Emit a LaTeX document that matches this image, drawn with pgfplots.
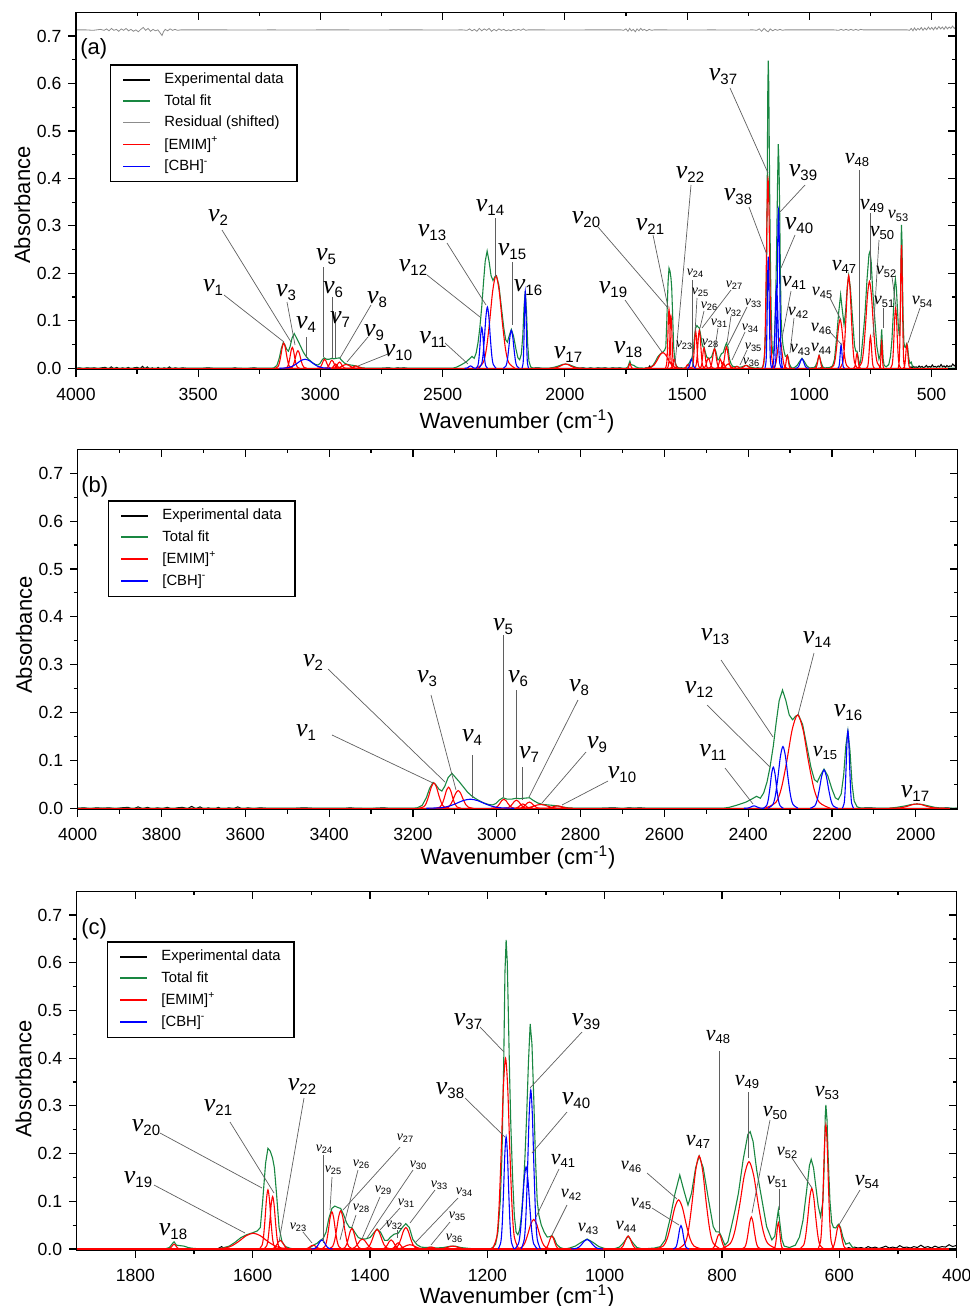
\documentclass[border=0pt]{standalone}
\usepackage{pgfplots}
\pgfplotsset{compat=1.18}
\usepackage{pgfplotstable}
\usepackage{fontspec}
\setmainfont{Liberation Sans}
\newfontfamily\nufont{Liberation Serif}
\definecolor{fitgreen}{RGB}{25,135,65}
\definecolor{resgray}{RGB}{140,140,140}
\definecolor{leadgray}{RGB}{95,95,95}

\newcommand\NUL[1]{{\fontsize{13}{13}\selectfont\nufont\itshape ν}{\fontsize{7.5}{7.5}\selectfont\raisebox{-2pt}{#1}}}
\newcommand\NUM[1]{{\fontsize{11}{11}\selectfont\nufont\itshape ν}{\fontsize{6.5}{6.5}\selectfont\raisebox{-1.7pt}{#1}}}
\newcommand\NUS[1]{{\fontsize{9}{9}\selectfont\nufont\itshape ν}{\fontsize{5.5}{5.5}\selectfont\raisebox{-1.4pt}{#1}}}
\newcommand\NUX[1]{{\fontsize{7}{7}\selectfont\nufont\itshape ν}{\fontsize{4.6}{4.6}\selectfont\raisebox{-1pt}{#1}}}
\newcommand\LL[4]{\draw[leadgray,line width=0.35pt] (#1,#2)--(#3,#4);}
\newcommand\TT[3]{\node[inner sep=0pt] at (#1,#2) {#3};}

\pgfplotstableread{
x y
3186 0
3174 0.0033
3168 0.0111
3162 0.0265
3156 0.0446
3150 0.053
3144 0.0446
3138 0.0265
3132 0.0111
3126 0.0033
3114 0
nan nan
3145 0
3135 0.0028
3130 0.0092
3125 0.022
3120 0.037
3115 0.044
3110 0.037
3105 0.022
3100 0.0092
3095 0.0028
3085 0
nan nan
3128 0
3116 0.0023
3110 0.0078
3104 0.0185
3098 0.0311
3092 0.037
3086 0.0311
3080 0.0185
3074 0.0078
3068 0.0023
3056 0
nan nan
3013 0
3003 0.0012
2998 0.004
2993 0.0095
2988 0.016
2983 0.019
2978 0.016
2973 0.0095
2968 0.004
2963 0.0012
2953 0
nan nan
2983 0
2973 0.0011
2968 0.0036
2963 0.0085
2958 0.0143
2953 0.017
2948 0.0143
2943 0.0085
2938 0.0036
2933 0.0011
2923 0
nan nan
2962 0
2954 0.0006
2950 0.0019
2946 0.0045
2942 0.0076
2938 0.009
2934 0.0076
2930 0.0045
2926 0.0019
2922 0.0006
2914 0
nan nan
2952 0
2942 0.0008
2937 0.0027
2932 0.0065
2927 0.0109
2922 0.013
2917 0.0109
2912 0.0065
2907 0.0027
2902 0.0008
2892 0
nan nan
2949 0
2931 0.0005
2922 0.0017
2913 0.004
2904 0.0067
2895 0.008
2886 0.0067
2877 0.004
2868 0.0017
2859 0.0005
2841 0
nan nan
2891 0
2879 0.0003
2873 0.0011
2867 0.0025
2861 0.0042
2855 0.005
2849 0.0042
2843 0.0025
2837 0.0011
2831 0.0003
2819 0
nan nan
2360 0
2334 0.0122
2321 0.041
2308 0.0975
2295 0.164
2282 0.195
2269 0.164
2256 0.0975
2243 0.041
2230 0.0122
2204 0
nan nan
2063 0
2041 0.0006
2030 0.0019
2019 0.0045
2008 0.0076
1997 0.009
1986 0.0076
1975 0.0045
1964 0.0019
1953 0.0006
1931 0
nan nan
1746 0
1742 0.0006
1740 0.0021
1738 0.005
1736 0.0084
1734 0.010
1732 0.0084
1730 0.005
1728 0.0021
1726 0.0006
1722 0
nan nan
1671 0
1647 0.0021
1635 0.0069
1623 0.0165
1611 0.0278
1599 0.033
1587 0.0278
1575 0.0165
1563 0.0069
1551 0.0021
1527 0
nan nan
1589 0
1584 0.0078
1581.5 0.026
1579 0.062
1576.5 0.1043
1574 0.124
1571.5 0.1043
1569 0.062
1566.5 0.026
1564 0.0078
1559 0
nan nan
1581 0
1576 0.0069
1573.5 0.0231
1571 0.055
1568.5 0.0925
1566 0.110
1563.5 0.0925
1561 0.055
1558.5 0.0231
1556 0.0069
1551 0
nan nan
1571 0
1565 0.0011
1562 0.0038
1559 0.009
1556 0.0151
1553 0.018
1550 0.0151
1547 0.009
1544 0.0038
1541 0.0011
1535 0
nan nan
1515 0
1509 0.0005
1506 0.0017
1503 0.004
1500 0.0067
1497 0.008
1494 0.0067
1491 0.004
1488 0.0017
1485 0.0005
1479 0
nan nan
1483 0
1477 0.0049
1474 0.0164
1471 0.039
1468 0.0656
1465 0.078
1462 0.0656
1459 0.039
1456 0.0164
1453 0.0049
1447 0
nan nan
1471 0
1464 0.005
1460.5 0.0168
1457 0.04
1453.5 0.0673
1450 0.080
1446.5 0.0673
1443 0.04
1439.5 0.0168
1436 0.005
1429 0
nan nan
1449 0
1443 0.0027
1440 0.009
1437 0.0215
1434 0.0362
1431 0.043
1428 0.0362
1425 0.0215
1422 0.009
1419 0.0027
1413 0
nan nan
1437 0
1429 0.0013
1425 0.0044
1421 0.0105
1417 0.0177
1413 0.021
1409 0.0177
1405 0.0105
1401 0.0044
1397 0.0013
1389 0
nan nan
1412 0
1404 0.0026
1400 0.0086
1396 0.0205
1392 0.0345
1388 0.041
1384 0.0345
1380 0.0205
1376 0.0086
1372 0.0026
1364 0
nan nan
1382 0
1376 0.0012
1373 0.004
1370 0.0095
1367 0.016
1364 0.019
1361 0.016
1358 0.0095
1355 0.004
1352 0.0012
1346 0
nan nan
1367 0
1362 0.0008
1359.5 0.0027
1357 0.0065
1354.5 0.0109
1352 0.013
1349.5 0.0109
1347 0.0065
1344.5 0.0027
1342 0.0008
1337 0
nan nan
1363 0
1355 0.0028
1351 0.0095
1347 0.0225
1343 0.0378
1339 0.045
1335 0.0378
1331 0.0225
1327 0.0095
1323 0.0028
1315 0
nan nan
1362 0
1352 0.0006
1347 0.0019
1342 0.0045
1337 0.0076
1332 0.009
1327 0.0076
1322 0.0045
1317 0.0019
1312 0.0006
1302 0
nan nan
1314 0
1308 0.0003
1305 0.0008
1302 0.002
1299 0.0034
1296 0.004
1293 0.0034
1290 0.002
1287 0.0008
1284 0.0003
1278 0
nan nan
1289 0
1279 0.0004
1274 0.0013
1269 0.003
1264 0.005
1259 0.006
1254 0.005
1249 0.003
1244 0.0013
1239 0.0004
1229 0
nan nan
1191.5 0
1184 0.025
1180.25 0.084
1176.5 0.20
1172.75 0.3364
1169 0.40
1165.25 0.3364
1161.5 0.20
1157.75 0.084
1154 0.025
1146.5 0
nan nan
1151 0
1141 0.0039
1136 0.013
1131 0.031
1126 0.0521
1121 0.062
1116 0.0521
1111 0.031
1106 0.013
1101 0.0039
1091 0
nan nan
1105 0
1100 0.0017
1097.5 0.0057
1095 0.0135
1092.5 0.0227
1090 0.027
1087.5 0.0227
1085 0.0135
1082.5 0.0057
1080 0.0017
1075 0
nan nan
978 0
972 0.0017
969 0.0057
966 0.0135
963 0.0227
960 0.027
957 0.0227
954 0.0135
951 0.0057
948 0.0017
942 0
nan nan
913 0
900 0.0064
893.5 0.0216
887 0.0515
880.5 0.0866
874 0.103
867.5 0.0866
861 0.0515
854.5 0.0216
848 0.0064
835 0
nan nan
875 0
863 0.0122
857 0.041
851 0.0975
845 0.164
839 0.195
833 0.164
827 0.0975
821 0.041
815 0.0122
803 0
nan nan
820 0
815 0.0019
812.5 0.0065
810 0.0155
807.5 0.0261
805 0.031
802.5 0.0261
800 0.0155
797.5 0.0065
795 0.0019
790 0
nan nan
802 0
786 0.0114
778 0.0384
770 0.0915
762 0.1539
754 0.183
746 0.1539
738 0.0915
730 0.0384
722 0.0114
706 0
nan nan
766.5 0
761 0.0042
758.25 0.0141
755.5 0.0335
752.75 0.0563
750 0.067
747.25 0.0563
744.5 0.0335
741.75 0.0141
739 0.0042
733.5 0
nan nan
713 0
710 0.0034
708.5 0.0116
707 0.0275
705.5 0.0463
704 0.055
702.5 0.0463
701 0.0275
699.5 0.0116
698 0.0034
695 0
nan nan
668 0
661 0.0079
657.5 0.0267
654 0.0635
650.5 0.1068
647 0.127
643.5 0.1068
640 0.0635
636.5 0.0267
633 0.0079
626 0
nan nan
636.5 0
632 0.0163
629.75 0.0546
627.5 0.13
625.25 0.2187
623 0.26
620.75 0.2187
618.5 0.13
616.25 0.0546
614 0.0163
609.5 0
nan nan
616 0
611 0.0031
608.5 0.0105
606 0.025
603.5 0.042
601 0.05
598.5 0.042
596 0.025
593.5 0.0105
591 0.0031
586 0
}\redtab

\pgfplotstableread{
x y
3168 0
3133 0.0012
3115.5 0.004
3098 0.0095
3080.5 0.016
3063 0.019
3045.5 0.016
3028 0.0095
3010.5 0.004
2993 0.0012
2958 0
nan nan
2410 0
2402 0.0003
2398 0.0011
2394 0.0025
2390 0.0042
2386 0.005
2382 0.0042
2378 0.0025
2374 0.0011
2370 0.0003
2362 0
nan nan
2364 0
2356 0.0054
2352 0.0181
2348 0.043
2344 0.0723
2340 0.086
2336 0.0723
2332 0.043
2328 0.0181
2324 0.0054
2316 0
nan nan
2353 0
2341 0.0081
2335 0.0271
2329 0.0645
2323 0.1085
2317 0.129
2311 0.1085
2305 0.0645
2299 0.0271
2293 0.0081
2281 0
nan nan
2252 0
2241 0.005
2235.5 0.0168
2230 0.04
2224.5 0.0673
2219 0.080
2213.5 0.0673
2208 0.04
2202.5 0.0168
2197 0.005
2186 0
nan nan
2175.5 0
2171 0.0101
2168.75 0.034
2166.5 0.081
2164.25 0.1362
2162 0.162
2159.75 0.1362
2157.5 0.081
2155.25 0.034
2153 0.0101
2148.5 0
nan nan
1500 0
1494 0.0012
1491 0.004
1488 0.0095
1485 0.016
1482 0.019
1479 0.016
1476 0.0095
1473 0.004
1470 0.0012
1464 0
nan nan
1181.5 0
1177 0.0147
1174.75 0.0494
1172.5 0.1175
1170.25 0.1976
1168 0.235
1165.75 0.1976
1163.5 0.1175
1161.25 0.0494
1159 0.0147
1154.5 0
nan nan
1153.5 0
1147 0.0108
1143.75 0.0361
1140.5 0.086
1137.25 0.1447
1134 0.172
1130.75 0.1447
1127.5 0.086
1124.25 0.0361
1121 0.0108
1114.5 0
nan nan
1142.5 0
1137 0.0208
1134.25 0.0699
1131.5 0.1665
1128.75 0.28
1126 0.333
1123.25 0.28
1120.5 0.1665
1117.75 0.0699
1115 0.0208
1109.5 0
nan nan
1057 0
1048 0.0013
1043.5 0.0042
1039 0.01
1034.5 0.0168
1030 0.020
1025.5 0.0168
1021 0.01
1016.5 0.0042
1012 0.0013
1003 0
nan nan
883.5 0
879 0.0031
876.75 0.0103
874.5 0.0245
872.25 0.0412
870 0.049
867.75 0.0412
865.5 0.0245
863.25 0.0103
861 0.0031
856.5 0
}\bluetab

\pgfplotstableread{
x y
4000 0
3200 0
3190 0.001
3178 0.006
3168 0.022
3160 0.042
3152 0.054
3146 0.050
3138 0.040
3131 0.036
3124 0.046
3116 0.064
3107 0.073
3099 0.065
3090 0.056
3080 0.045
3070 0.034
3060 0.026
3050 0.020
3040 0.015
3030 0.011
3020 0.008
3010 0.007
3002 0.010
2994 0.017
2985 0.022
2975 0.019
2965 0.019
2953 0.021
2945 0.020
2935 0.021
2922 0.022
2912 0.016
2902 0.011
2890 0.008
2878 0.007
2865 0.006
2855 0.005
2845 0.003
2830 0.001
2810 0
2460 0
2445 0.002
2425 0.007
2405 0.013
2390 0.020
2380 0.025
2371 0.021
2363 0.032
2355 0.055
2348 0.085
2340 0.130
2333 0.180
2326 0.225
2318 0.247
2310 0.225
2302 0.195
2294 0.185
2286 0.193
2280 0.195
2270 0.175
2260 0.130
2250 0.085
2242 0.060
2235 0.055
2228 0.068
2219 0.082
2210 0.068
2200 0.040
2192 0.022
2185 0.018
2178 0.030
2172 0.070
2167 0.130
2162 0.162
2157 0.120
2152 0.050
2147 0.015
2140 0.003
2130 0
2065 0
2045 0.002
2025 0.005
2010 0.008
1997 0.009
1985 0.008
1970 0.005
1955 0.002
1935 0
1750 0
1742 0.003
1737 0.011
1734 0.015
1730 0.008
1724 0.007
1717 0.006
1710 0.003
1700 0.001
1665 0
1652 0.002
1640 0.006
1630 0.014
1620 0.024
1610 0.030
1600 0.034
1592 0.038
1587 0.045
1583 0.100
1578 0.180
1574 0.211
1570 0.205
1566 0.190
1563 0.170
1559 0.110
1555 0.045
1550 0.015
1544 0.005
1535 0.001
1520 0
1505 0.001
1500 0.005
1495 0.009
1490 0.012
1485 0.018
1480 0.022
1475 0.035
1470 0.065
1465 0.085
1460 0.090
1455 0.087
1450 0.085
1445 0.072
1440 0.055
1435 0.045
1431 0.045
1426 0.035
1420 0.024
1414 0.021
1408 0.021
1400 0.024
1394 0.033
1388 0.042
1382 0.035
1375 0.018
1370 0.018
1365 0.025
1359 0.031
1352 0.033
1345 0.045
1339 0.053
1333 0.045
1327 0.020
1320 0.009
1313 0.004
1305 0.003
1296 0.004
1288 0.002
1275 0.003
1262 0.006
1255 0.006
1245 0.003
1230 0.001
1215 0
1195 0
1190 0.004
1186 0.010
1182 0.035
1178 0.100
1175 0.200
1172 0.400
1170 0.580
1168 0.648
1166 0.600
1164 0.480
1162 0.360
1160 0.260
1157 0.150
1154 0.070
1151 0.035
1148 0.030
1145 0.040
1142 0.070
1139 0.120
1136 0.190
1133 0.280
1130 0.390
1127 0.472
1124 0.430
1121 0.320
1118 0.190
1115 0.100
1112 0.070
1108 0.050
1103 0.035
1098 0.025
1093 0.026
1090 0.028
1086 0.022
1082 0.010
1076 0.003
1068 0
1060 0.002
1050 0.006
1040 0.014
1030 0.021
1020 0.014
1010 0.005
1000 0.001
985 0
975 0.004
968 0.013
960 0.027
952 0.013
945 0.003
935 0
915 0.002
905 0.005
897 0.019
889 0.061
880 0.117
872 0.155
866 0.127
858 0.092
852 0.117
845 0.170
839 0.195
832 0.170
823 0.103
815 0.047
810 0.036
805 0.036
801 0.026
795 0.008
790 0.015
784 0.047
778 0.080
772 0.117
764 0.187
756 0.240
752 0.246
747 0.225
741 0.166
732 0.103
724 0.047
715 0.019
710 0.027
706 0.065
704 0.082
701 0.050
698 0.020
694 0.006
685 0.003
675 0.008
668 0.025
662 0.060
656 0.120
651 0.175
648 0.188
644 0.170
640 0.130
636 0.090
632 0.068
628 0.100
626 0.170
624 0.280
623 0.302
621 0.270
619 0.190
616 0.100
613 0.055
610 0.045
606 0.044
603 0.050
601 0.052
598 0.045
594 0.025
589 0.010
583 0.013
578 0.004
570 0
400 0
}\fittab

\pgfplotstableread{
x y
4000 0
3985 0.001
3970 -0.001
3955 0.001
3940 0
3925 0.001
3910 -0.001
3895 0.001
3880 0.002
3868 -0.002
3856 0.003
3845 -0.001
3833 0.002
3822 -0.002
3810 0.001
3798 -0.001
3786 0.002
3774 -0.002
3762 0.001
3750 0.002
3738 -0.001
3728 0.004
3718 -0.001
3708 0.003
3698 -0.002
3688 0.001
3676 -0.003
3664 0.002
3652 -0.004
3640 0.001
3628 -0.001
3618 0.003
3606 -0.002
3594 0.001
3580 -0.001
3565 0.001
3550 0
3480 0
3460 0.001
3440 0
3360 0
3350 0.001
3340 0
3300 -0.001
3290 0
3270 0.001
3260 0
2750 0
2720 0.001
2700 -0.001
2685 0.001
2670 0
2660 0.001
2645 0
2140 0
2110 0.001
2095 0
1940 0
1925 0.001
1910 -0.001
1895 0.001
1880 -0.001
1865 0.001
1850 0
1835 0.001
1820 -0.001
1805 0.001
1790 0
1775 0.001
1760 -0.001
1745 0
1700 0
1692 -0.002
1684 -0.003
1676 -0.001
1668 0.001
1660 0
1653 0.005
1648 0
1530 0
1522 0.001
1515 -0.001
1508 0
1240 0
1232 0.001
1222 -0.001
1212 0.001
1205 0
995 0
988 0.001
980 -0.001
950 0.001
940 -0.001
930 0.001
920 0
590 0
584 0.003
579 0.001
574 0.004
569 0.002
563 0.003
557 0.001
551 0.005
545 0.002
539 0.004
533 0.001
527 0.003
521 0.006
515 0.002
509 0.004
503 0.002
497 0.007
491 0.003
485 0.004
479 0.002
473 0.005
467 0.003
461 0.008
455 0.003
449 0.005
443 0.002
437 0.006
431 0.003
425 0.005
419 0.004
413 0.009
407 0.005
402 0.007
400 0.006
}\exptab

\pgfplotstableread{
x y
4000 0.713
3960 0.713
3930 0.712
3900 0.714
3885 0.712
3875 0.715
3865 0.711
3855 0.716
3845 0.712
3835 0.714
3825 0.710
3815 0.715
3805 0.712
3795 0.716
3785 0.711
3775 0.714
3765 0.710
3755 0.713
3745 0.709
3735 0.714
3725 0.718
3715 0.712
3705 0.716
3695 0.710
3685 0.714
3675 0.711
3665 0.713
3655 0.706
3648 0.701
3642 0.709
3635 0.714
3625 0.711
3615 0.715
3605 0.712
3595 0.714
3585 0.712
3570 0.713
3500 0.713
3400 0.713
3300 0.7125
3200 0.713
3100 0.7125
3000 0.713
2900 0.713
2800 0.7125
2700 0.713
2600 0.713
2500 0.7125
2420 0.713
2400 0.712
2390 0.715
2380 0.711
2370 0.714
2360 0.710
2350 0.716
2340 0.711
2330 0.715
2320 0.712
2310 0.716
2300 0.710
2290 0.714
2280 0.711
2270 0.715
2260 0.712
2250 0.714
2240 0.711
2230 0.713
2220 0.711
2210 0.714
2200 0.712
2190 0.714
2180 0.712
2170 0.715
2160 0.712
2150 0.713
2100 0.713
2000 0.7125
1900 0.713
1800 0.713
1770 0.713
1760 0.712
1750 0.715
1742 0.710
1735 0.716
1728 0.711
1720 0.714
1712 0.709
1705 0.715
1697 0.711
1690 0.716
1682 0.712
1675 0.714
1665 0.711
1655 0.714
1645 0.712
1635 0.713
1600 0.713
1500 0.7125
1400 0.713
1300 0.7125
1230 0.713
1215 0.712
1205 0.715
1195 0.710
1185 0.716
1175 0.711
1168 0.709
1160 0.715
1150 0.711
1140 0.714
1130 0.712
1120 0.714
1110 0.712
1100 0.713
1000 0.713
900 0.713
880 0.712
870 0.714
860 0.712
850 0.714
840 0.712
830 0.714
820 0.712
810 0.714
800 0.712
790 0.714
780 0.713
700 0.713
600 0.713
590 0.712
583 0.716
576 0.711
570 0.717
563 0.712
556 0.716
549 0.713
542 0.718
535 0.712
528 0.717
520 0.713
513 0.719
506 0.714
499 0.718
492 0.713
485 0.719
478 0.714
470 0.720
463 0.715
456 0.719
449 0.714
442 0.720
435 0.715
428 0.719
421 0.716
414 0.721
407 0.716
400 0.720
}\restab

\pgfplotsset{
 spbase/.style={scale only axis, width=440pt, x dir=reverse, ymin=-0.003, ymax=0.75,
   anchor=south west,
   axis line style={line width=0.6pt},
   every tick/.style={black, line width=0.6pt},
   major tick length=3.75pt, minor tick length=2pt,
   ytick={0,0.1,0.2,0.3,0.4,0.5,0.6,0.7}, minor y tick num=1, minor x tick num=1,
   tick label style={font=\fontsize{8.8}{10}\selectfont},
   xticklabel style={yshift=-2pt},
   /pgf/number format/assume math mode=true,
   /pgf/number format/set thousands separator={},
   yticklabel style={/pgf/number format/fixed, /pgf/number format/fixed zerofill, /pgf/number format/precision=1},
   unbounded coords=jump},
 spmain/.style={spbase, tick align=outside, xtick pos=left, ytick pos=left},
 spover/.style={spbase, tick align=inside, xtick pos=right, ytick pos=right, xticklabels={}, yticklabels={}},
 leg/.style={legend style={at={#1}, anchor=north west, draw=black, line width=0.7pt, fill=white,
   font=\fontsize{7.4}{8.5}\selectfont, inner xsep=6pt, inner ysep=3.5pt, row sep=2.6pt,
   nodes={inner sep=0.6pt},
   /tikz/every odd column/.append style={column sep=6pt}},
   legend cell align=left,
   legend image code/.code={\draw[##1,line width=0.8pt] (0pt,0pt) -- (13.5pt,0pt);}},
}

\begin{document}
\begin{tikzpicture}
\useasboundingbox (0,0) rectangle (484.5pt,-653pt);

% ---------- (a)
\begin{axis}[spmain, at={(38pt,-184.85pt)}, height=178.7pt, xmin=400, xmax=4000,
  xtick={500,1000,1500,2000,2500,3000,3500,4000}, leg={(0.0386,0.855)}]
\addlegendimage{black}\addlegendentry{Experimental data}
\addlegendimage{fitgreen}\addlegendentry{Total fit}
\addlegendimage{resgray}\addlegendentry{Residual (shifted)}
\addlegendimage{red}\addlegendentry{[EMIM]\textsuperscript{+}}
\addlegendimage{blue}\addlegendentry{[CBH]\textsuperscript{-}}
\addplot[black, line width=0.5pt, forget plot] table[x=x,y=y]{\exptab};
\addplot[fitgreen, line width=0.55pt, forget plot] table[x=x,y=y]{\fittab};
\addplot[resgray, line width=0.4pt, forget plot] table[x=x,y=y]{\restab};
\addplot[red, line width=0.55pt, forget plot] coordinates {(4000,0) (400,0)};
\addplot[red, line width=0.55pt, smooth, forget plot] table[x=x,y=y]{\redtab};
\addplot[blue, line width=0.55pt, smooth, forget plot] table[x=x,y=y]{\bluetab};
\end{axis}
\begin{axis}[spover, at={(38pt,-184.85pt)}, height=178.7pt, xmin=400, xmax=4000,
  xtick={500,1000,1500,2000,2500,3000,3500,4000}]
\end{axis}

% ---------- (b)
\begin{axis}[spmain, at={(38.85pt,-404.85pt)}, height=180.2pt, xmin=1900, xmax=4000,
  xtick={2000,2200,2400,2600,2800,3000,3200,3400,3600,3800,4000}, leg={(0.0344,0.859)}]
\addlegendimage{black}\addlegendentry{Experimental data}
\addlegendimage{fitgreen}\addlegendentry{Total fit}
\addlegendimage{red}\addlegendentry{[EMIM]\textsuperscript{+}}
\addlegendimage{blue}\addlegendentry{[CBH]\textsuperscript{-}}
\addplot[black, line width=0.5pt, forget plot] table[x=x,y=y]{\exptab};
\addplot[fitgreen, line width=0.55pt, forget plot] table[x=x,y=y]{\fittab};
\addplot[red, line width=0.55pt, forget plot] coordinates {(4000,0) (400,0)};
\addplot[red, line width=0.55pt, smooth, forget plot] table[x=x,y=y]{\redtab};
\addplot[blue, line width=0.55pt, smooth, forget plot] table[x=x,y=y]{\bluetab};
\end{axis}
\begin{axis}[spover, at={(38.85pt,-404.85pt)}, height=180.2pt, xmin=1900, xmax=4000,
  xtick={2000,2200,2400,2600,2800,3000,3200,3400,3600,3800,4000}]
\end{axis}

% ---------- (c)
\begin{axis}[spmain, at={(38.35pt,-625.2pt)}, height=179.6pt, xmin=400, xmax=1900,
  xtick={400,600,800,1000,1200,1400,1600,1800}, leg={(0.0344,0.861)}]
\addlegendimage{black}\addlegendentry{Experimental data}
\addlegendimage{fitgreen}\addlegendentry{Total fit}
\addlegendimage{red}\addlegendentry{[EMIM]\textsuperscript{+}}
\addlegendimage{blue}\addlegendentry{[CBH]\textsuperscript{-}}
\addplot[black, line width=0.5pt, forget plot] table[x=x,y=y]{\exptab};
\addplot[fitgreen, line width=0.55pt, forget plot] table[x=x,y=y]{\fittab};
\addplot[red, line width=0.55pt, forget plot] coordinates {(4000,0) (400,0)};
\addplot[red, line width=0.55pt, smooth, forget plot] table[x=x,y=y]{\redtab};
\addplot[blue, line width=0.55pt, smooth, forget plot] table[x=x,y=y]{\bluetab};
\end{axis}
\begin{axis}[spover, at={(38.35pt,-625.2pt)}, height=179.6pt, xmin=400, xmax=1900,
  xtick={400,600,800,1000,1200,1400,1600,1800}]
\end{axis}

% ---------- annotations (pixel coordinates of the reference)
\begin{scope}[x=0.5pt,y=-0.5pt]
\node[anchor=west,inner sep=0pt,font=\fontsize{11}{11}\selectfont] at (80,49) {(a)};
\node[anchor=west,inner sep=0pt,font=\fontsize{11}{11}\selectfont] at (81,487) {(b)};
\node[anchor=west,inner sep=0pt,font=\fontsize{11}{11}\selectfont] at (81,929) {(c)};
\node[anchor=base,inner sep=0pt,font=\fontsize{11}{11}\selectfont] at (517,428.5) {Wavenumber (cm\textsuperscript{-1})};
\node[anchor=base,inner sep=0pt,font=\fontsize{11}{11}\selectfont] at (518,864.3) {Wavenumber (cm\textsuperscript{-1})};
\node[anchor=base,inner sep=0pt,font=\fontsize{11}{11}\selectfont] at (517,1303.3) {Wavenumber (cm\textsuperscript{-1})};
\node[rotate=90,anchor=base,inner sep=0pt,font=\fontsize{11}{11}\selectfont] at (30,205) {Absorbance};
\node[rotate=90,anchor=base,inner sep=0pt,font=\fontsize{11}{11}\selectfont] at (32,635) {Absorbance};
\node[rotate=90,anchor=base,inner sep=0pt,font=\fontsize{11}{11}\selectfont] at (31.5,1079) {Absorbance};

% (a) labels
\LL{224}{295}{284}{342}\TT{213}{288}{\NUL{1}}
\LL{222}{230}{291}{342}\TT{218}{218}{\NUL{2}}
\LL{287}{302}{295}{345}\TT{286}{293}{\NUL{3}}
\LL{306}{337}{306}{358}\TT{306}{325}{\NUL{4}}
\LL{323}{267}{323}{357}\TT{326}{257}{\NUL{5}}
\LL{332}{297}{332}{358}\TT{333}{290}{\NUL{6}}
\LL{335}{312}{335}{358}\TT{340}{320}{\NUL{7}}
\LL{371}{305}{340}{358}\TT{377}{300}{\NUL{8}}
\LL{368}{337}{347}{362}\TT{374}{333}{\NUL{9}}
\LL{388}{354}{358}{366}\TT{398}{353}{\NUL{10}}
\LL{445}{343}{468}{364}\TT{433}{340}{\NUL{11}}
\LL{427}{275}{480}{317}\TT{413}{268}{\NUL{12}}
\LL{447}{243}{486}{305}\TT{432}{233}{\NUL{13}}
\LL{495}{218}{495}{277}\TT{490}{208}{\NUL{14}}
\LL{512}{262}{512}{325}\TT{512}{252}{\NUL{15}}
\TT{528}{288}{\NUL{16}}
\TT{568}{355}{\NUL{17}}
\TT{628}{350}{\NUL{18}}
\LL{625}{300}{662}{352}\TT{613}{290}{\NUL{19}}
\LL{598}{227}{668}{308}\TT{586}{220}{\NUL{20}}
\LL{653}{235}{668}{307}\TT{650}{227}{\NUL{21}}
\LL{691}{185}{675}{365}\TT{690}{175}{\NUL{22}}
\TT{684}{345}{\NUX{23}}
\LL{692}{280}{692}{367}\TT{695}{273}{\NUX{24}}
\LL{697}{298}{695}{333}\TT{700}{292}{\NUX{25}}
\LL{704}{311}{700}{328}\TT{709}{306}{\NUX{26}}
\LL{731}{290}{702}{328}\TT{734}{285}{\NUX{27}}
\TT{710}{343}{\NUX{28}}
\LL{718}{328}{715}{348}\TT{719}{323}{\NUX{31}}
\LL{731}{316}{727}{343}\TT{733}{312}{\NUX{32}}
\LL{747}{307}{728}{345}\TT{753}{303}{\NUX{33}}
\LL{745}{332}{732}{360}\TT{750}{328}{\NUX{34}}
\LL{747}{350}{740}{365}\TT{753}{347}{\NUX{35}}
\TT{751}{362}{\NUX{36}}
\LL{730}{88}{768}{173}\TT{723}{77}{\NUL{37}}
\LL{749}{207}{767}{255}\TT{738}{197}{\NUL{38}}
\LL{805}{185}{780}{212}\TT{803}{173}{\NUL{39}}
\LL{795}{235}{781}{268}\TT{799}{226}{\NUL{40}}
\LL{791}{291}{782}{338}\TT{794}{283}{\NUM{41}}
\LL{794}{318}{790}{353}\TT{798}{313}{\NUS{42}}
\TT{800}{350}{\NUS{43}}
\TT{821}{349}{\NUS{44}}
\LL{830}{298}{841}{320}\TT{822}{293}{\NUS{45}}
\LL{830}{332}{842}{345}\TT{821}{329}{\NUS{46}}
\TT{844}{267}{\NUM{47}}
\LL{859}{170}{859}{352}\TT{857}{160}{\NUM{48}}
\LL{870}{213}{870}{280}\TT{872}{206}{\NUM{49}}
\LL{879}{240}{873}{337}\TT{882}{233}{\NUM{50}}
\LL{883}{308}{883}{328}\TT{884}{302}{\NUS{51}}
\LL{892}{277}{896}{307}\TT{886}{272}{\NUS{52}}
\TT{898}{216}{\NUS{53}}
\LL{920}{308}{908}{343}\TT{922}{302}{\NUS{54}}

% (b) labels
\LL{332}{735}{433}{783}\TT{306}{733}{\NUL{1}}
\LL{328}{669}{445}{782}\TT{313}{663}{\NUL{2}}
\LL{431}{695}{456}{790}\TT{427}{679}{\NUL{3}}
\LL{472}{755}{472}{798}\TT{472}{738}{\NUL{4}}
\LL{503}{635}{503}{797}\TT{503}{627}{\NUL{5}}
\LL{516}{690}{516}{798}\TT{518}{679}{\NUL{6}}
\LL{522}{767}{522}{800}\TT{529}{755}{\NUL{7}}
\LL{578}{700}{529}{797}\TT{579}{688}{\NUL{8}}
\LL{586}{752}{542}{803}\TT{597}{745}{\NUL{9}}
\LL{608}{781}{562}{805}\TT{622}{775}{\NUL{10}}
\LL{725}{768}{753}{804}\TT{713}{753}{\NUL{11}}
\LL{707}{705}{770}{767}\TT{699}{690}{\NUL{12}}
\LL{721}{660}{773}{737}\TT{715}{637}{\NUL{13}}
\LL{814}{653}{798}{715}\TT{817}{640}{\NUL{14}}
\TT{825}{753}{\NUM{15}}
\TT{848}{713}{\NUL{16}}
\TT{915}{794}{\NUL{17}}

% (c) labels
\TT{173}{1232}{\NUL{18}}
\LL{154}{1185}{245}{1233}\TT{138}{1180}{\NUL{19}}
\LL{160}{1133}{262}{1188}\TT{146}{1128}{\NUL{20}}
\LL{230}{1122}{274}{1193}\TT{218}{1108}{\NUL{21}}
\LL{304}{1098}{279}{1242}\TT{302}{1087}{\NUL{22}}
\LL{303}{1232}{312}{1243}\TT{298}{1227}{\NUX{23}}
\LL{323}{1155}{323}{1243}\TT{324}{1149}{\NUX{24}}
\LL{332}{1177}{330}{1210}\TT{333}{1170}{\NUX{25}}
\LL{358}{1170}{340}{1240}\TT{361}{1164}{\NUX{26}}
\LL{400}{1147}{343}{1210}\TT{405}{1138}{\NUX{27}}
\LL{356}{1215}{352}{1227}\TT{361}{1208}{\NUX{28}}
\LL{380}{1197}{362}{1239}\TT{383}{1190}{\NUX{29}}
\LL{413}{1170}{367}{1238}\TT{418}{1165}{\NUX{30}}
\LL{400}{1208}{380}{1230}\TT{406}{1203}{\NUX{31}}
\LL{397}{1230}{397}{1238}\TT{394}{1225}{\NUX{32}}
\LL{435}{1190}{410}{1223}\TT{439}{1185}{\NUX{33}}
\LL{458}{1198}{415}{1243}\TT{464}{1192}{\NUX{34}}
\LL{450}{1222}{431}{1245}\TT{457}{1216}{\NUX{35}}
\TT{454}{1238}{\NUX{36}}
\LL{480}{1027}{504}{1052}\TT{468}{1022}{\NUL{37}}
\LL{465}{1098}{505}{1137}\TT{450}{1091}{\NUL{38}}
\LL{582}{1032}{530}{1088}\TT{586}{1022}{\NUL{39}}
\LL{567}{1112}{532}{1153}\TT{576}{1101}{\NUL{40}}
\LL{559}{1169}{536}{1217}\TT{563}{1161}{\NUM{41}}
\LL{567}{1205}{552}{1235}\TT{571}{1195}{\NUS{42}}
\TT{588}{1229}{\NUS{43}}
\TT{626}{1227}{\NUS{44}}
\LL{652}{1208}{679}{1225}\TT{641}{1204}{\NUS{45}}
\LL{647}{1173}{677}{1199}\TT{631}{1167}{\NUS{46}}
\TT{698}{1142}{\NUM{47}}
\LL{719}{1051}{719}{1232}\TT{718}{1037}{\NUM{48}}
\LL{748}{1092}{748}{1158}\TT{747}{1082}{\NUM{49}}
\LL{770}{1120}{752}{1213}\TT{775}{1113}{\NUM{50}}
\LL{779}{1189}{779}{1210}\TT{777}{1182}{\NUS{51}}
\LL{792}{1158}{812}{1188}\TT{787}{1153}{\NUS{52}}
\TT{827}{1093}{\NUM{53}}
\LL{860}{1190}{839}{1225}\TT{867}{1182}{\NUM{54}}
\end{scope}
\end{tikzpicture}
\end{document}
